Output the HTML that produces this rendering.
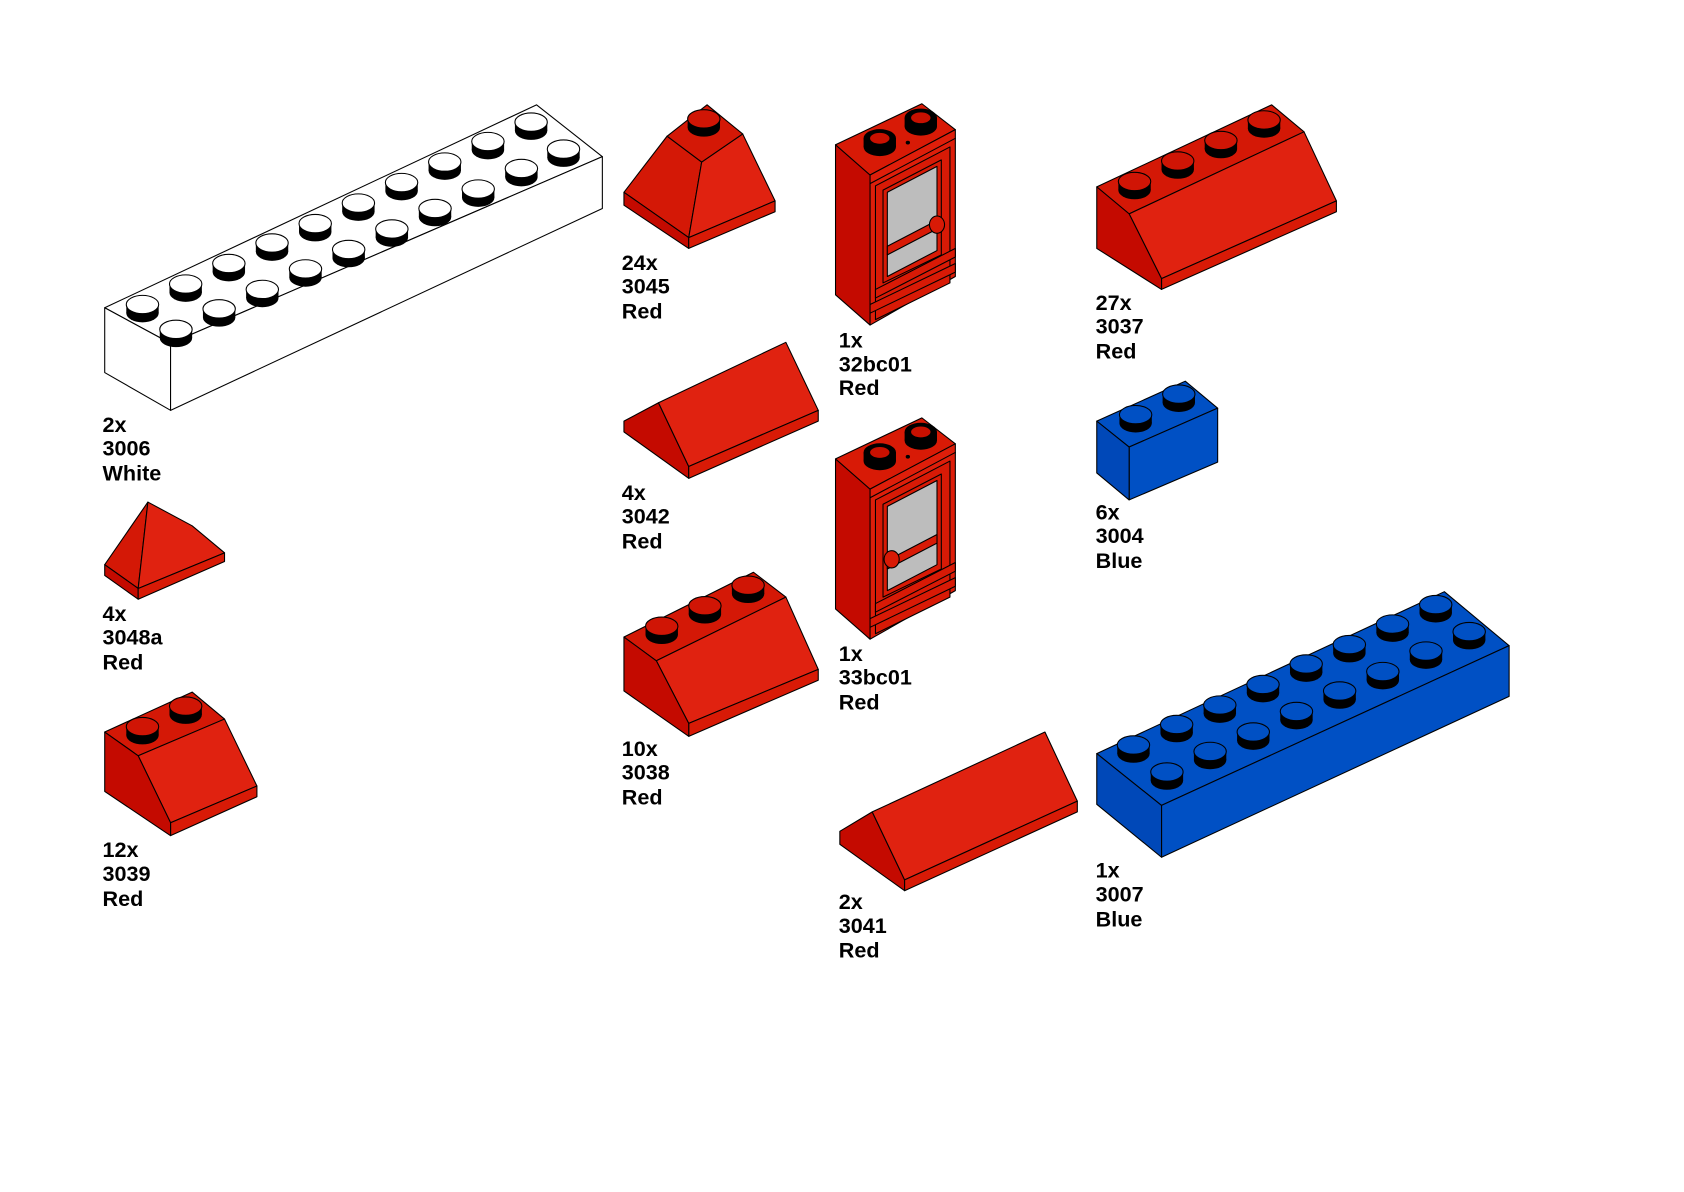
<!DOCTYPE html>
<html><head><meta charset="utf-8"><style>
html,body{margin:0;padding:0;background:#fff;}
svg{display:block}
text{font-family:"Liberation Sans",sans-serif;font-weight:bold;font-size:20px;fill:#000}
</style></head><body>
<svg width="1684" height="1192" viewBox="0 0 1560 1104" xmlns="http://www.w3.org/2000/svg">
<defs>
<g id="sw"><rect x="-15" y="0" width="30" height="8" fill="#000"/><ellipse cx="0" cy="8" rx="15" ry="8.5" fill="#000"/><ellipse cx="0" cy="0" rx="15" ry="8.5" fill="#fff" stroke="#000" stroke-width="1"/></g>
<g id="sr"><rect x="-15" y="0" width="30" height="8" fill="#000"/><ellipse cx="0" cy="8" rx="15" ry="8.5" fill="#000"/><ellipse cx="0" cy="0" rx="15" ry="8.5" fill="#d01505" stroke="#000" stroke-width="1"/></g>
<g id="sb"><rect x="-15" y="0" width="30" height="8" fill="#000"/><ellipse cx="0" cy="8" rx="15" ry="8.5" fill="#000"/><ellipse cx="0" cy="0" rx="15" ry="8.5" fill="#0050c4" stroke="#000" stroke-width="1"/></g>
<g id="sd"><rect x="-15" y="0" width="30" height="8" fill="#000"/><ellipse cx="0" cy="8" rx="15" ry="8.5" fill="#000"/><ellipse cx="0" cy="0" rx="15" ry="8.5" fill="#000"/><ellipse cx="0" cy="0" rx="9" ry="5" fill="#c81000"/></g>
<g id="door" stroke="#000" stroke-width="1" stroke-linejoin="round">
<polygon points="774,134 806,162 806,301 774,273" fill="#c40a00"/>
<polygon points="774,134 854,96 885,120 806,162" fill="#d81a06"/>
<polygon points="806,162 885,120 885,256 806,301" fill="#de1e0a"/>
<polygon points="806,170 885,128" fill="none"/>
<polygon points="811,172 880,136 880,262 811,296" fill="#d81a06"/>
<polygon points="818,176 872,148 872,236 818,262" fill="#d81a06"/>
<polygon points="822,178 868,154 868,232 822,256" fill="#bdbdbd"/>
<polygon points="822,228 868,204 868,212 822,236" fill="#d81a06"/>
<polygon points="811,268 885,230 885,238 811,276" fill="#d81a06"/>
<polygon points="806,282 885,244 885,252 806,290" fill="#d81a06"/>
<ellipse cx="841" cy="132" rx="1.5" ry="1.2" fill="#000"/>
</g>
</defs>

<!-- 3006 white -->
<g stroke="#000" stroke-width="1" fill="#fff" stroke-linejoin="round">
<polygon points="97,285 497,97 558,145 158,318"/>
<polygon points="97,285 158,318 158,380 97,345"/>
<polygon points="158,318 558,145 558,193 158,380"/>
</g>
<use href="#sw" x="132" y="282"/><use href="#sw" x="172" y="263"/><use href="#sw" x="212" y="244"/><use href="#sw" x="252" y="225"/><use href="#sw" x="292" y="207"/><use href="#sw" x="332" y="188"/><use href="#sw" x="372" y="169"/><use href="#sw" x="412" y="150"/><use href="#sw" x="452" y="131"/><use href="#sw" x="492" y="113"/>
<use href="#sw" x="163" y="305"/><use href="#sw" x="203" y="286"/><use href="#sw" x="243" y="268"/><use href="#sw" x="283" y="249"/><use href="#sw" x="323" y="231"/><use href="#sw" x="363" y="212"/><use href="#sw" x="403" y="193"/><use href="#sw" x="443" y="175"/><use href="#sw" x="483" y="156"/><use href="#sw" x="522" y="138"/>

<!-- 3045 -->
<g stroke="#000" stroke-width="1" stroke-linejoin="round">
<polygon points="578,178 618,126 650,150 638,220" fill="#d41806"/>
<polygon points="650,150 688,124 718,186 638,220" fill="#e02210"/>
<polygon points="618,126 655,97 688,124 650,150" fill="#d41806"/>
<polygon points="578,178 638,220 638,230 578,190" fill="#c40a00"/>
<polygon points="638,220 718,186 718,196 638,230" fill="#d81a06"/>
</g>
<use href="#sr" x="652" y="110"/>

<!-- door 32bc01 -->
<use href="#door"/>
<use href="#sd" x="815" y="128"/><use href="#sd" x="853" y="109"/>
<ellipse cx="868" cy="208" rx="7" ry="8" fill="#d81a06" stroke="#000"/>

<!-- door 33bc01 -->
<g transform="translate(0,291)"><use href="#door"/>
<use href="#sd" x="815" y="128"/><use href="#sd" x="853" y="109"/>
<ellipse cx="826" cy="227" rx="7" ry="8" fill="#d81a06" stroke="#000"/></g>

<!-- 3037 -->
<g stroke="#000" stroke-width="1" stroke-linejoin="round">
<polygon points="1016,173 1178,97 1208,122 1046,198" fill="#d41806"/>
<polygon points="1046,198 1208,122 1238,186 1076,258" fill="#e02210"/>
<polygon points="1076,258 1238,186 1238,196 1076,268" fill="#d81a06"/>
<polygon points="1016,173 1046,198 1076,258 1076,268 1016,230" fill="#c40a00"/>
</g>
<use href="#sr" x="1051" y="168"/><use href="#sr" x="1091" y="149"/><use href="#sr" x="1131" y="130"/><use href="#sr" x="1171" y="111"/>

<!-- 3004 blue -->
<g stroke="#000" stroke-width="1" stroke-linejoin="round">
<polygon points="1016,390 1098,353 1128,378 1046,414" fill="#0050c4"/>
<polygon points="1046,414 1128,378 1128,428 1046,463" fill="#0050c4"/>
<polygon points="1016,390 1046,414 1046,463 1016,438" fill="#0048b8"/>
</g>
<use href="#sb" x="1052" y="384"/><use href="#sb" x="1092" y="365"/>

<!-- 3042 -->
<g stroke="#000" stroke-width="1" stroke-linejoin="round">
<polygon points="578,390 610,373 638,432 638,443 578,400" fill="#c40a00"/>
<polygon points="610,373 728,317 758,380 638,432" fill="#e02210"/>
<polygon points="638,432 758,380 758,390 638,443" fill="#d81a06"/>
</g>

<!-- 3048a -->
<g stroke="#000" stroke-width="1" stroke-linejoin="round">
<polygon points="97,523 137,465 128,545" fill="#d41806"/>
<polygon points="137,465 178,487 208,512 128,545" fill="#e02210"/>
<polygon points="97,523 128,545 128,555 97,533" fill="#c40a00"/>
<polygon points="128,545 208,512 208,520 128,555" fill="#d81a06"/>
</g>

<!-- 3038 -->
<g stroke="#000" stroke-width="1" stroke-linejoin="round">
<polygon points="578,590 698,530 728,553 608,612" fill="#d41806"/>
<polygon points="608,612 728,553 758,620 638,670" fill="#e02210"/>
<polygon points="638,670 758,620 758,630 638,682" fill="#d81a06"/>
<polygon points="578,590 608,612 638,670 638,682 578,640" fill="#c40a00"/>
</g>
<use href="#sr" x="613" y="580"/><use href="#sr" x="653" y="561"/><use href="#sr" x="693" y="542"/>

<!-- 3039 -->
<g stroke="#000" stroke-width="1" stroke-linejoin="round">
<polygon points="97,678 178,641 208,666 128,700" fill="#d41806"/>
<polygon points="128,700 208,666 238,728 158,762" fill="#e02210"/>
<polygon points="158,762 238,728 238,738 158,774" fill="#d81a06"/>
<polygon points="97,678 128,700 158,762 158,774 97,733" fill="#c40a00"/>
</g>
<use href="#sr" x="132" y="673"/><use href="#sr" x="172" y="654"/>

<!-- 3041 -->
<g stroke="#000" stroke-width="1" stroke-linejoin="round">
<polygon points="778,770 808,752 838,815 838,825 778,782" fill="#c40a00"/>
<polygon points="808,752 968,678 998,742 838,815" fill="#e02210"/>
<polygon points="838,815 998,742 998,752 838,825" fill="#d81a06"/>
</g>

<!-- 3007 blue -->
<g stroke="#000" stroke-width="1" stroke-linejoin="round">
<polygon points="1016,698 1338,548 1398,598 1076,746" fill="#0050c4"/>
<polygon points="1076,746 1398,598 1398,645 1076,794" fill="#0050c4"/>
<polygon points="1016,698 1076,746 1076,794 1016,745" fill="#0048b8"/>
</g>
<use href="#sb" x="1050" y="690"/><use href="#sb" x="1090" y="671"/><use href="#sb" x="1130" y="653"/><use href="#sb" x="1170" y="634"/><use href="#sb" x="1210" y="615"/><use href="#sb" x="1250" y="597"/><use href="#sb" x="1290" y="578"/><use href="#sb" x="1330" y="560"/>
<use href="#sb" x="1081" y="715"/><use href="#sb" x="1121" y="696"/><use href="#sb" x="1161" y="678"/><use href="#sb" x="1201" y="659"/><use href="#sb" x="1241" y="640"/><use href="#sb" x="1281" y="622"/><use href="#sb" x="1321" y="603"/><use href="#sb" x="1361" y="585"/>

<!-- labels -->
<text x="95" y="400">2x</text><text x="95" y="422">3006</text><text x="95" y="445">White</text>
<text x="576" y="250">24x</text><text x="576" y="272">3045</text><text x="576" y="295">Red</text>
<text x="777" y="322">1x</text><text x="777" y="344">32bc01</text><text x="777" y="366">Red</text>
<text x="1015" y="287">27x</text><text x="1015" y="309">3037</text><text x="1015" y="332">Red</text>
<text x="576" y="463">4x</text><text x="576" y="485">3042</text><text x="576" y="508">Red</text>
<text x="1015" y="481">6x</text><text x="1015" y="503">3004</text><text x="1015" y="526">Blue</text>
<text x="95" y="575">4x</text><text x="95" y="597">3048a</text><text x="95" y="620">Red</text>
<text x="777" y="612">1x</text><text x="777" y="634">33bc01</text><text x="777" y="657">Red</text>
<text x="576" y="700">10x</text><text x="576" y="722">3038</text><text x="576" y="745">Red</text>
<text x="95" y="794">12x</text><text x="95" y="816">3039</text><text x="95" y="839">Red</text>
<text x="777" y="842">2x</text><text x="777" y="864">3041</text><text x="777" y="887">Red</text>
<text x="1015" y="813">1x</text><text x="1015" y="835">3007</text><text x="1015" y="858">Blue</text>
</svg>
</body></html>
